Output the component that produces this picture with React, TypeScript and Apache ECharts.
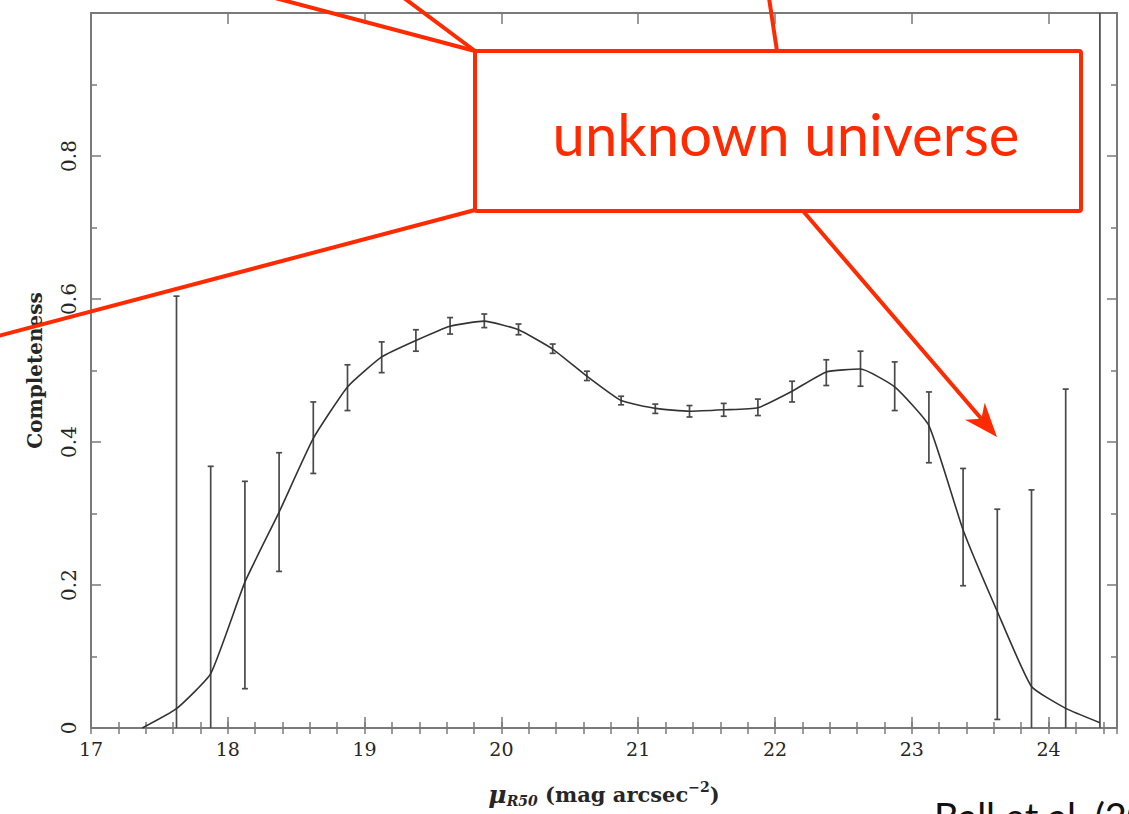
import React, { useEffect, useRef } from 'react';
import * as echarts from 'echarts';

// ---- data ----
const magnitudeBins = [17.375, 17.625, 17.875, 18.125, 18.375, 18.625, 18.875, 19.125, 19.375, 19.625, 19.875, 20.125, 20.375, 20.625, 20.875, 21.125, 21.375, 21.625, 21.875, 22.125, 22.375, 22.625, 22.875, 23.125, 23.375, 23.625, 23.875, 24.125, 24.375];
const completeness = [0, 0.027, 0.076, 0.204, 0.302, 0.405, 0.477, 0.519, 0.542, 0.562, 0.569, 0.557, 0.53, 0.492, 0.458, 0.447, 0.443, 0.445, 0.448, 0.471, 0.498, 0.502, 0.477, 0.423, 0.277, 0.163, 0.058, 0.0275, 0.0075];
const errorLow = [null, -0.55, -0.214, 0.055, 0.219, 0.356, 0.444, 0.497, 0.527, 0.551, 0.56, 0.55, 0.524, 0.486, 0.452, 0.44, 0.435, 0.436, 0.437, 0.456, 0.479, 0.478, 0.444, 0.371, 0.199, 0.012, -0.217, -0.42, -1.2];
const errorHigh = [null, 0.604, 0.366, 0.345, 0.385, 0.456, 0.508, 0.54, 0.557, 0.574, 0.579, 0.565, 0.537, 0.499, 0.464, 0.453, 0.451, 0.454, 0.46, 0.485, 0.515, 0.527, 0.512, 0.47, 0.363, 0.306, 0.333, 0.474, 1.2];
const xTickLabels = ['17', '18', '19', '20', '21', '22', '23', '24'];
const yTickLabels = ['0', '0.2', '0.4', '0.6', '0.8', ''];
const annotationText = 'unknown universe';
const citationText = 'Ball et al. (2006)';

const RED = '#ff2a00';
const AXIS = '#7a7a7a';
const SERIF = 'DejaVu Serif';
const INK = '#262626';

export default function App() {
  const ref = useRef<HTMLDivElement>(null);

  useEffect(() => {
    if (!ref.current) return;
    const chart = echarts.init(ref.current, undefined, { renderer: 'svg' });

    const lineData = magnitudeBins.map((x, i) => [x, completeness[i]]);
    const errData: number[][] = [];
    magnitudeBins.forEach((x, i) => {
      if (errorLow[i] !== null && errorHigh[i] !== null) errData.push([x, errorLow[i] as number, errorHigh[i] as number]);
    });

    const xBase = {
      type: 'value',
      min: 17,
      max: 24.5,
      splitLine: { show: false },
    };

    const xMajor = (position: string, labels: boolean) => ({
      ...xBase,
      position,
      interval: 1,
      axisLine: { show: true, onZero: false, lineStyle: { color: AXIS, width: 2 } },
      axisTick: { show: true, inside: true, length: 11, lineStyle: { color: AXIS, width: 1.5 } },
      axisLabel: {
        show: labels,
        margin: 11,
        fontFamily: SERIF,
        fontSize: 19,
        color: INK,
        formatter: (v: number) => (Number.isInteger(v) ? xTickLabels[v - 17] ?? '' : ''),
      },
    });
    const xMinor = (position: string) => ({
      ...xBase,
      position,
      interval: 0.2,
      axisLine: { show: false },
      axisTick: { show: true, inside: true, length: 6, lineStyle: { color: AXIS, width: 1.5 } },
      axisLabel: { show: false },
    });

    const yAxisDef = (position: string, labels: boolean) => ({
      type: 'value',
      min: 0,
      max: 1,
      interval: 0.2,
      position,
      splitLine: { show: false },
      axisLine: { show: true, onZero: false, lineStyle: { color: AXIS, width: 2 } },
      axisTick: { show: true, inside: true, length: 10, lineStyle: { color: AXIS, width: 1.5 } },
      minorTick: { show: true, splitNumber: 2, length: 6, lineStyle: { color: AXIS, width: 1.5 } },
      axisLabel: {
        show: labels,
        rotate: 90,
        margin: 12,
        fontFamily: SERIF,
        fontSize: 20,
        color: INK,
        formatter: (v: number) => yTickLabels[Math.round(v / 0.2)] ?? '',
      },
    });

    const xNamed: any = xMajor('bottom', true);
    xNamed.name = '{mu|μ}{sub|R50}{n| (mag arcsec}{sup|−2}{n|)}';
    xNamed.nameLocation = 'middle';
    xNamed.nameGap = 52;
    xNamed.nameMoveOverlap = false;
    xNamed.nameTextStyle = {
      rich: {
        mu: { fontFamily: SERIF, fontStyle: 'italic', fontWeight: 'bold', fontSize: 25, color: INK },
        sub: { fontFamily: SERIF, fontStyle: 'italic', fontWeight: 'bold', fontSize: 14, color: INK, padding: [14, 0, 0, 0] },
        n: { fontFamily: SERIF, fontWeight: 'bold', fontSize: 21, color: INK },
        sup: { fontFamily: SERIF, fontWeight: 'bold', fontSize: 14, color: INK, padding: [0, 0, 14, 0] },
      },
    };

    const yNamed: any = yAxisDef('left', true);
    yNamed.name = 'Completeness';
    yNamed.nameLocation = 'middle';
    yNamed.nameGap = 46;
    yNamed.nameMoveOverlap = false;
    yNamed.nameTextStyle = { fontFamily: SERIF, fontWeight: 'bold', fontSize: 20, color: INK };

    const capHalf = 3;
    const errStyle = { stroke: '#4a4a4a', lineWidth: 1.7 };

    // Arrow geometry (annotation overlay)
    const arrowStart = [803, 211];
    const tip = [997, 437];
    const dx = tip[0] - arrowStart[0];
    const dy = tip[1] - arrowStart[1];
    const len = Math.hypot(dx, dy);
    const ux = dx / len;
    const uy = dy / len;
    const px = -uy;
    const py = ux;
    const headLen = 34;
    const headHalf = 13;
    const notch = [tip[0] - ux * 24, tip[1] - uy * 24];
    const base = [tip[0] - ux * headLen, tip[1] - uy * headLen];
    const wing1 = [base[0] + px * headHalf, base[1] + py * headHalf];
    const wing2 = [base[0] - px * headHalf, base[1] - py * headHalf];

    const redLine = (x1: number, y1: number, x2: number, y2: number) => ({
      type: 'line',
      z: 100,
      shape: { x1, y1, x2, y2 },
      style: { stroke: RED, lineWidth: 4 },
    });

    chart.setOption({
      animation: false,
      backgroundColor: '#ffffff',
      grid: { left: 91, right: 12, top: 13, bottom: 86, containLabel: false, outerBoundsMode: 'none' },
      xAxis: [xNamed, xMinor('bottom'), xMajor('top', false), xMinor('top')],
      yAxis: [yNamed, yAxisDef('right', false)],
      series: [
        {
          type: 'custom',
          xAxisIndex: 0,
          yAxisIndex: 0,
          clip: true,
          encode: { x: 0, y: [1, 2] },
          data: errData,
          renderItem: (params: any, api: any) => {
            const x = api.value(0);
            const lo = api.coord([x, api.value(1)]);
            const hi = api.coord([x, api.value(2)]);
            return {
              type: 'group',
              children: [
                { type: 'line', shape: { x1: lo[0], y1: lo[1], x2: hi[0], y2: hi[1] }, style: errStyle },
                { type: 'line', shape: { x1: lo[0] - capHalf, y1: lo[1], x2: lo[0] + capHalf, y2: lo[1] }, style: errStyle },
                { type: 'line', shape: { x1: hi[0] - capHalf, y1: hi[1], x2: hi[0] + capHalf, y2: hi[1] }, style: errStyle },
              ],
            };
          },
        },
        {
          type: 'line',
          xAxisIndex: 0,
          yAxisIndex: 0,
          data: lineData,
          smooth: 0.15,
          showSymbol: false,
          symbol: 'none',
          lineStyle: { color: '#333', width: 1.6 },
        },
      ],
      graphic: [
        redLine(275, -2, 475, 51),
        redLine(404, -2, 475, 51),
        redLine(769, -2, 777, 51),
        redLine(475, 210, -2, 336),
        redLine(arrowStart[0], arrowStart[1], notch[0], notch[1]),
        {
          type: 'polygon',
          z: 101,
          shape: { points: [tip, wing1, notch, wing2] },
          style: { fill: RED },
        },
        {
          type: 'rect',
          z: 102,
          shape: { x: 475, y: 51, width: 606, height: 160, r: 2 },
          style: { fill: '#ffffff', stroke: RED, lineWidth: 4 },
        },
        {
          type: 'text',
          z: 103,
          x: 786,
          y: 133,
          style: {
            text: annotationText,
            fontFamily: 'Lato',
            fontSize: 58,
            fill: RED,
            align: 'center',
            verticalAlign: 'middle',
          },
        },
        {
          type: 'text',
          z: 103,
          x: 934,
          y: 797,
          style: {
            text: citationText,
            fontFamily: 'Lato',
            fontSize: 38,
            fill: '#111',
            align: 'left',
            verticalAlign: 'top',
          },
        },
      ],
    });

    return () => chart.dispose();
  }, []);

  return (
    <div
      ref={ref}
      style={{ position: 'fixed', left: 0, top: 0, width: 1129, height: 814, background: '#fff' }}
    />
  );
}
